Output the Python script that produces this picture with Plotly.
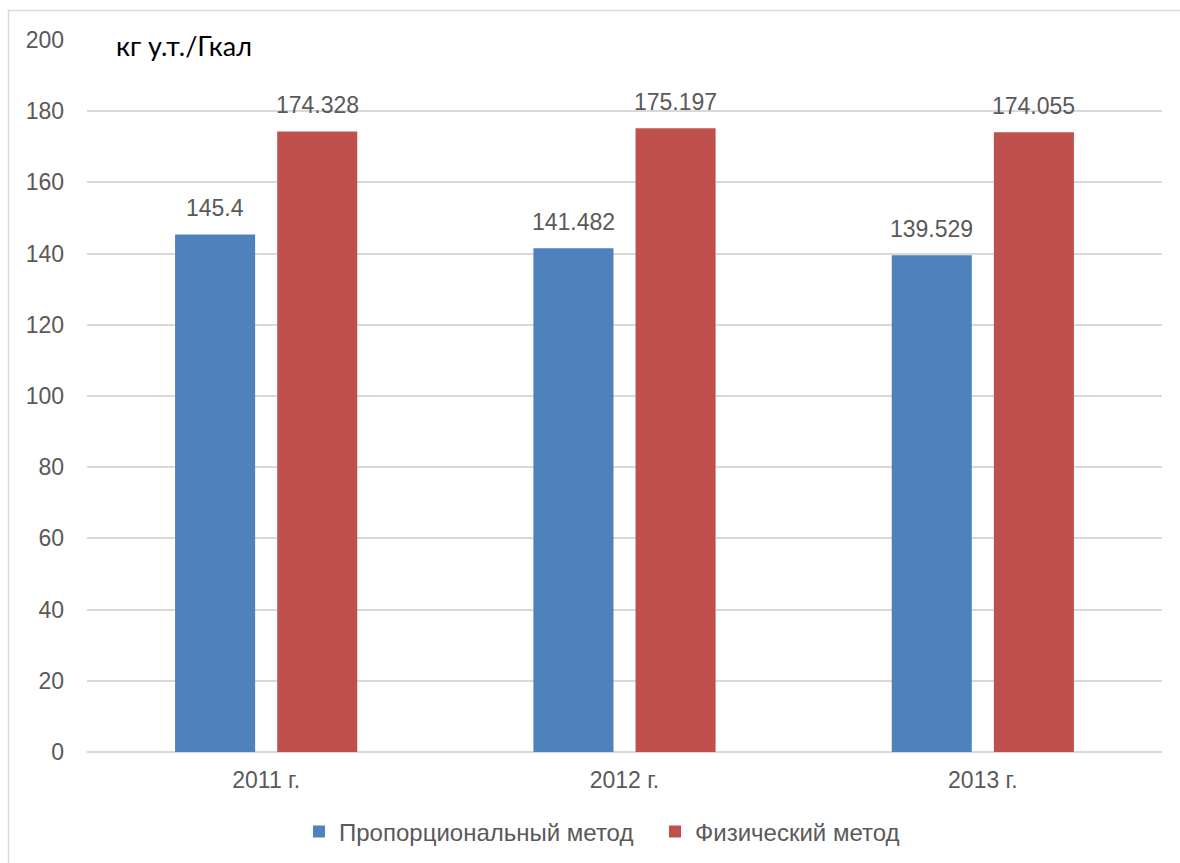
import plotly.graph_objects as go

# Данные: удельный расход топлива на отпуск тепла, кг у.т./Гкал
years = ["2011 г.", "2012 г.", "2013 г."]
proportional = [145.4, 141.482, 139.529]
physical = [174.328, 175.197, 174.055]
series_names = ["Пропорциональный метод", "Физический метод"]
y_ticks = list(range(0, 201, 20))

BLUE = "#4F81BD"
RED = "#C0504D"
GRID = "#D9D9D9"
TEXT = "#595959"
FONT = "Liberation Sans, Arial, sans-serif"

W, H = 1180, 863
ML, MR, MT, MB = 87, 18, 40, 111
PW, PH = W - ML - MR, H - MT - MB

fig = go.Figure()
for name, vals, col in [(series_names[0], proportional, BLUE),
                        (series_names[1], physical, RED)]:
    fig.add_trace(go.Bar(
        x=years, y=vals, name=name,
        marker=dict(color=col, line=dict(width=0)),
    ))

# подписи значений над столбцами
slot_px = PW / len(years) * (1 - 0.43) / 2
for i, vals in enumerate([proportional, physical]):
    shift = (i - 0.5) * slot_px
    for yr, v in zip(years, vals):
        fig.add_annotation(
            x=yr, y=v, xref="x", yref="y", text=f"{v:g}",
            showarrow=False, yanchor="bottom", xanchor="center",
            xshift=shift, yshift=11,
            font=dict(family=FONT, size=23, color=TEXT),
        )

# единица измерения
fig.add_annotation(
    x=(114 - ML) / PW, y=1 - (45 - MT) / PH, xref="paper", yref="paper",
    text="кг у.т./Гкал", showarrow=False, xanchor="left", yanchor="middle",
    font=dict(family="Lato, Open Sans, sans-serif", size=27, color="#000000"),
)

# рамка области диаграммы
fig.add_shape(
    type="rect", xref="paper", yref="paper",
    x0=(8.5 - ML) / PW, x1=(W + 10 - ML) / PW,
    y0=-(H + 10 - (H - MB)) / PH, y1=1 + (MT - 10.5) / PH,
    line=dict(color="#D9D9D9", width=1.5), layer="below",
)

fig.update_layout(
    width=W, height=H,
    margin=dict(l=ML, r=MR, t=MT, b=MB, autoexpand=False),
    paper_bgcolor="white", plot_bgcolor="white",
    barmode="group", bargap=0.43, bargroupgap=0.216,
    font=dict(family=FONT, size=23, color=TEXT),
    showlegend=True,
    legend=dict(
        orientation="h", x=(299 - ML) / PW, xanchor="left",
        y=-(832 - (H - MB)) / PH, yanchor="middle",
        font=dict(family=FONT, size=24, color=TEXT),
        itemwidth=30, traceorder="normal", entrywidth=311,
    ),
    xaxis=dict(
        showgrid=False, showline=False, ticks="",
        tickfont=dict(family=FONT, size=23, color=TEXT),
        ticklabelstandoff=12, automargin=False,
    ),
    yaxis=dict(
        range=[0, 200], tickvals=y_ticks, showgrid=True,
        gridcolor=GRID, gridwidth=1.5, zeroline=True,
        zerolinecolor=GRID, zerolinewidth=1.5, showline=False, ticks="",
        tickfont=dict(family=FONT, size=23, color=TEXT),
        ticklabelstandoff=22, automargin=False,
    ),
)

fig.write_html("out.html")
